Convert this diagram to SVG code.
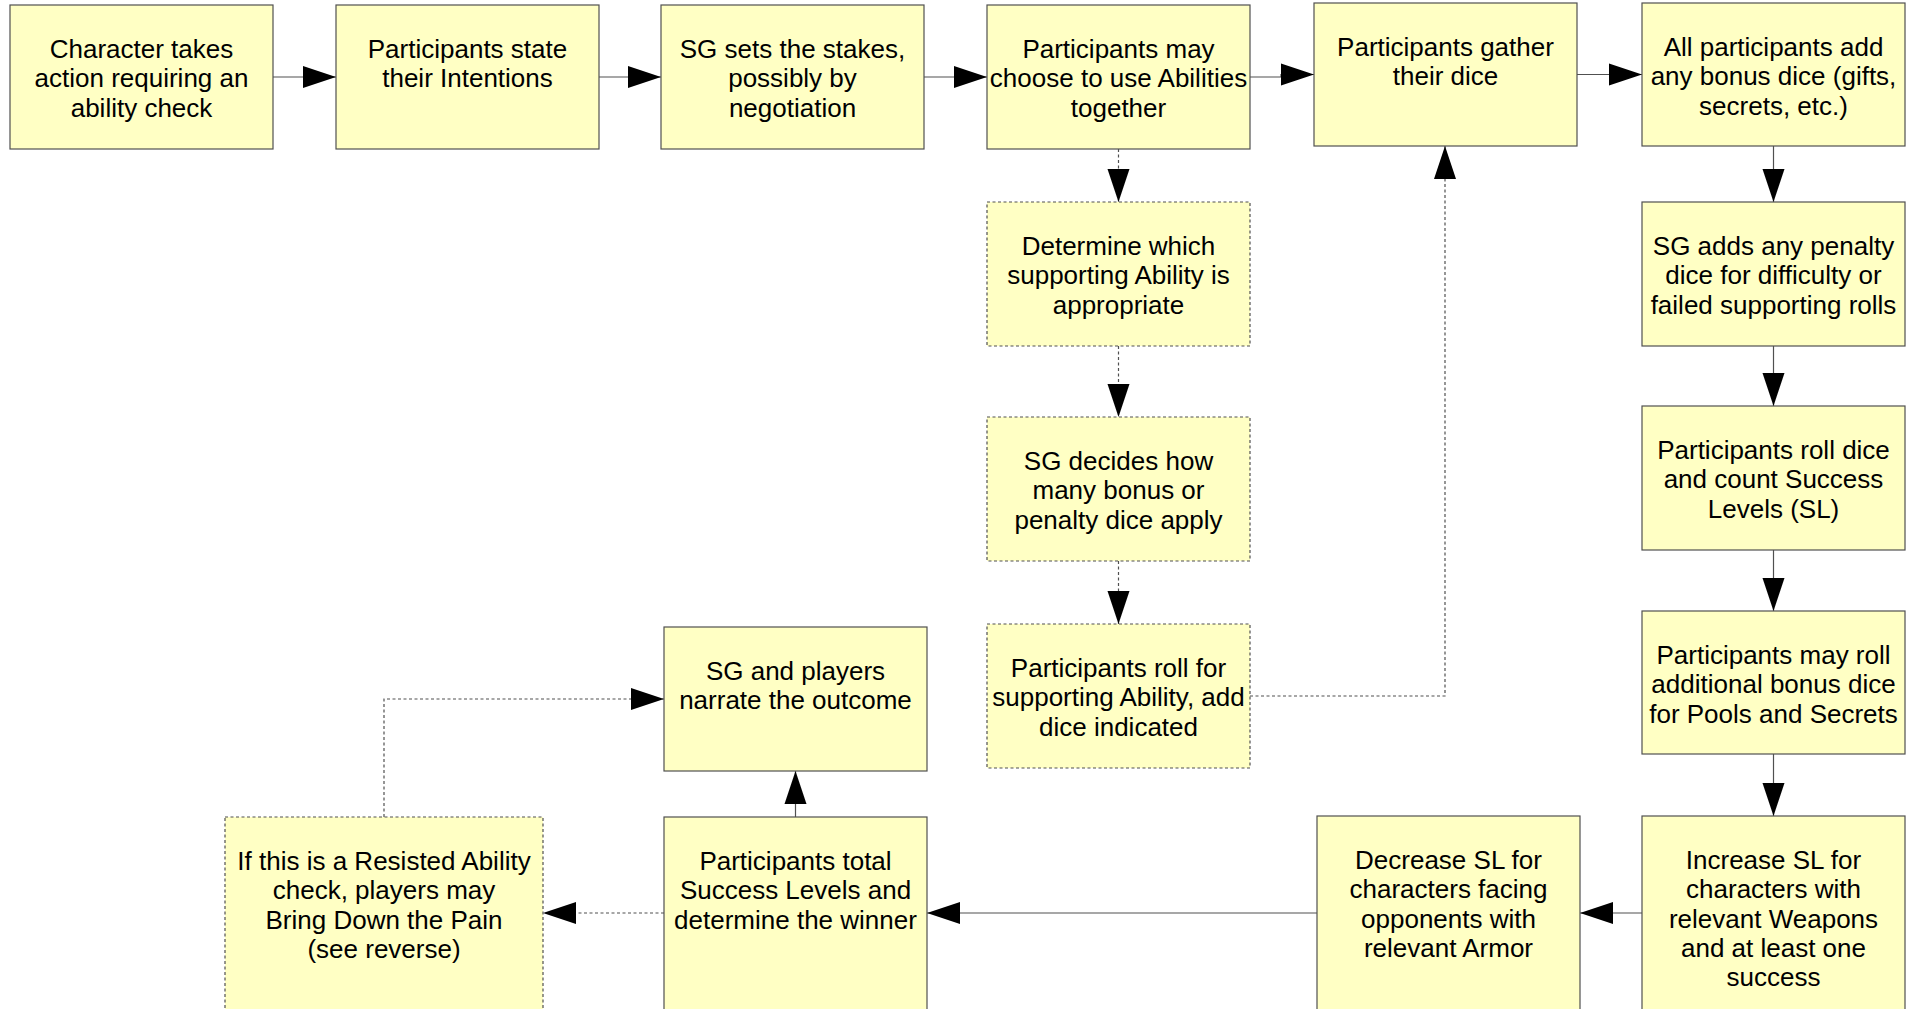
<svg xmlns="http://www.w3.org/2000/svg" width="1916" height="1009" viewBox="0 0 1916 1009">
<style>
.box{fill:#ffffc4;stroke:#505050;stroke-width:1.2}
.dbox{fill:#ffffc4;stroke:#505050;stroke-width:1.2;stroke-dasharray:3 2.5}
text{font-family:"Liberation Sans",Arial,sans-serif;font-size:26px;fill:#000;text-anchor:middle}
.ln{fill:none;stroke:#505050;stroke-width:1.2;marker-end:url(#ah)}
.dl{fill:none;stroke:#505050;stroke-width:1.2;stroke-dasharray:3 2.5;marker-end:url(#ah)}
</style>
<defs>
<marker id="ah" markerUnits="userSpaceOnUse" markerWidth="34" markerHeight="23" refX="33" refY="11" orient="auto" overflow="visible">
<path d="M0,0 L33,11 L0,22 Z" fill="#000"/>
</marker>
</defs>
<rect width="1916" height="1009" fill="#fff"/>
<g id="connectors">
<path class="ln" d="M273,77 H336"/>
<path class="ln" d="M599,77 H661"/>
<path class="ln" d="M924,77 H987"/>
<path class="ln" d="M1250,77 H1281 V74.5 H1314"/>
<path class="ln" d="M1577,74.5 H1642"/>
<path class="dl" d="M1118.5,149 V202"/>
<path class="dl" d="M1118.5,346 V417"/>
<path class="dl" d="M1118.5,561 V624"/>
<path class="dl" d="M1250,696 H1445 V146"/>
<path class="ln" d="M1773.5,146 V202"/>
<path class="ln" d="M1773.5,346 V406"/>
<path class="ln" d="M1773.5,550 V611"/>
<path class="ln" d="M1773.5,754 V816"/>
<path class="ln" d="M1642,913 H1580"/>
<path class="ln" d="M1317,913 H927"/>
<path class="ln" d="M795.5,817 V771"/>
<path class="dl" d="M664,913 H543"/>
<path class="dl" d="M384,817 V699 H664"/>
</g>
<g id="n1"><rect class="box" x="10" y="5" width="263" height="144"/><text x="141.5" y="58">Character takes</text><text x="141.5" y="87.3">action requiring an</text><text x="141.5" y="116.6">ability check</text></g>
<g id="n2"><rect class="box" x="336" y="5" width="263" height="144"/><text x="467.5" y="58">Participants state</text><text x="467.5" y="87.3">their Intentions</text></g>
<g id="n3"><rect class="box" x="661" y="5" width="263" height="144"/><text x="792.5" y="58">SG sets the stakes,</text><text x="792.5" y="87.3">possibly by</text><text x="792.5" y="116.6">negotiation</text></g>
<g id="n4"><rect class="box" x="987" y="5" width="263" height="144"/><text x="1118.5" y="58">Participants may</text><text x="1118.5" y="87.3">choose to use Abilities</text><text x="1118.5" y="116.6">together</text></g>
<g id="n5"><rect class="box" x="1314" y="3" width="263" height="143"/><text x="1445.5" y="56">Participants gather</text><text x="1445.5" y="85.3">their dice</text></g>
<g id="n6"><rect class="box" x="1642" y="3" width="263" height="143"/><text x="1773.5" y="56">All participants add</text><text x="1773.5" y="85.3">any bonus dice (gifts,</text><text x="1773.5" y="114.6">secrets, etc.)</text></g>
<g id="d1"><rect class="dbox" x="987" y="202" width="263" height="144"/><text x="1118.5" y="255">Determine which</text><text x="1118.5" y="284.3">supporting Ability is</text><text x="1118.5" y="313.6">appropriate</text></g>
<g id="d2"><rect class="dbox" x="987" y="417" width="263" height="144"/><text x="1118.5" y="470">SG decides how</text><text x="1118.5" y="499.3">many bonus or</text><text x="1118.5" y="528.6">penalty dice apply</text></g>
<g id="d3"><rect class="dbox" x="987" y="624" width="263" height="144"/><text x="1118.5" y="677">Participants roll for</text><text x="1118.5" y="706.3">supporting Ability, add</text><text x="1118.5" y="735.6">dice indicated</text></g>
<g id="c1"><rect class="box" x="1642" y="202" width="263" height="144"/><text x="1773.5" y="255">SG adds any penalty</text><text x="1773.5" y="284.3">dice for difficulty or</text><text x="1773.5" y="313.6">failed supporting rolls</text></g>
<g id="c2"><rect class="box" x="1642" y="406" width="263" height="144"/><text x="1773.5" y="459">Participants roll dice</text><text x="1773.5" y="488.3">and count Success</text><text x="1773.5" y="517.6">Levels (SL)</text></g>
<g id="c3"><rect class="box" x="1642" y="611" width="263" height="143"/><text x="1773.5" y="664">Participants may roll</text><text x="1773.5" y="693.3">additional bonus dice</text><text x="1773.5" y="722.6">for Pools and Secrets</text></g>
<g id="c4"><rect class="box" x="1642" y="816" width="263" height="300"/><text x="1773.5" y="869">Increase SL for</text><text x="1773.5" y="898.3">characters with</text><text x="1773.5" y="927.6">relevant Weapons</text><text x="1773.5" y="956.9">and at least one</text><text x="1773.5" y="986.2">success</text></g>
<g id="dec"><rect class="box" x="1317" y="816" width="263" height="300"/><text x="1448.5" y="869">Decrease SL for</text><text x="1448.5" y="898.3">characters facing</text><text x="1448.5" y="927.6">opponents with</text><text x="1448.5" y="956.9">relevant Armor</text></g>
<g id="tot"><rect class="box" x="664" y="817" width="263" height="300"/><text x="795.5" y="870">Participants total</text><text x="795.5" y="899.3">Success Levels and</text><text x="795.5" y="928.6">determine the winner</text></g>
<g id="res"><rect class="dbox" x="225" y="817" width="318" height="300"/><text x="384" y="870">If this is a Resisted Ability</text><text x="384" y="899.3">check, players may</text><text x="384" y="928.6">Bring Down the Pain</text><text x="384" y="957.9">(see reverse)</text></g>
<g id="nar"><rect class="box" x="664" y="627" width="263" height="144"/><text x="795.5" y="680">SG and players</text><text x="795.5" y="709.3">narrate the outcome</text></g>
</svg>
